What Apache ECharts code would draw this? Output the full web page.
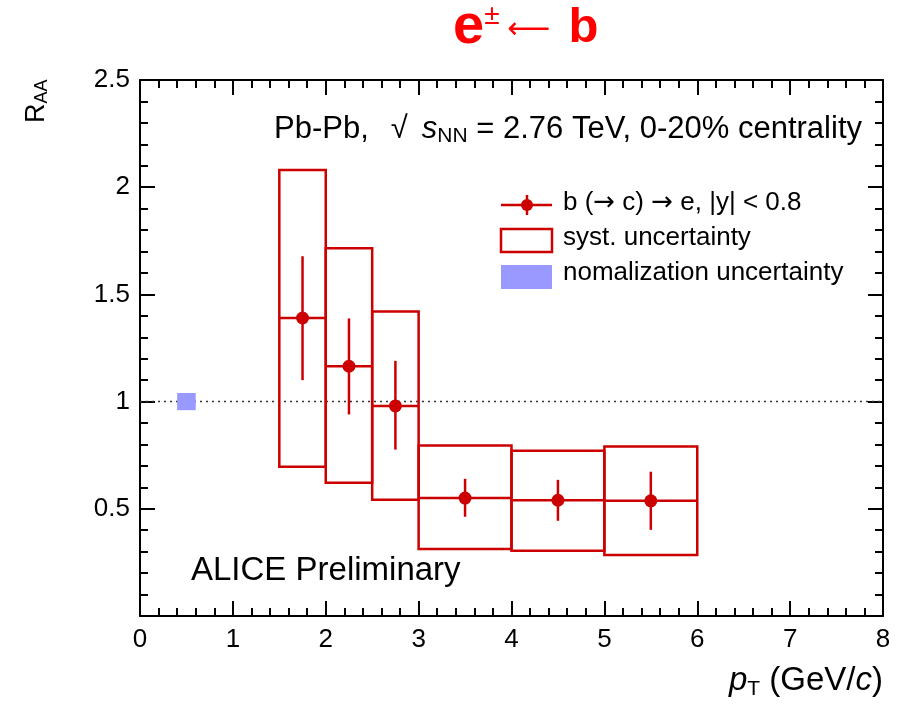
<!DOCTYPE html>
<html>
<head>
<meta charset="utf-8">
<script src="https://cdn.jsdelivr.net/npm/echarts@6/dist/echarts.min.js"></script>
<style>
  html, body { margin: 0; padding: 0; background: #fff; }
  #chart { width: 900px; height: 708px; }
</style>
</head>
<body>
<div id="chart"></div>
<script>
// bins in pT (GeV/c)
var binLow  = [1.5, 2.0, 2.5, 3.0, 4.0, 5.0];
var binHigh = [2.0, 2.5, 3.0, 4.0, 5.0, 6.0];
// R_AA central values and errors
var raa      = [1.39, 1.165, 0.98, 0.55, 0.54, 0.537];
var statLow  = [1.10, 0.94, 0.776, 0.463, 0.444, 0.402];
var statHigh = [1.678, 1.388, 1.19, 0.64, 0.635, 0.673];
var systLow  = [0.696, 0.621, 0.542, 0.313, 0.304, 0.285];
var systHigh = [2.08, 1.715, 1.42, 0.795, 0.771, 0.79];
// normalization box  [xmin, xmax, ymin, ymax]
var normBox = [0.4, 0.6, 0.96, 1.04];
var unityLine = [[0, 1], [8, 1]];

var red = '#cc0000';
var font = 'Liberation Sans';
var arrowFont = 'DejaVu Sans';

var systData = [], pointData = [];
for (var i = 0; i < raa.length; i++) {
    systData.push([binLow[i], binHigh[i], systLow[i], systHigh[i]]);
    pointData.push([binLow[i], binHigh[i], raa[i], statLow[i], statHigh[i]]);
}

var chart = echarts.init(document.getElementById('chart'));

function axisCommon() {
    return {
        axisLine: { show: true, onZero: false, lineStyle: { color: '#000', width: 2 } },
        axisTick: { show: true, inside: true, length: 15, lineStyle: { color: '#000', width: 2 } },
        minorTick: { show: true, splitNumber: 5, length: 8, lineStyle: { color: '#000', width: 2 } },
        splitLine: { show: false }
    };
}

var xBottom = Object.assign(axisCommon(), {
    type: 'value', position: 'bottom', min: 0, max: 8, interval: 1,
    axisLabel: { color: '#000', fontFamily: font, fontSize: 26, margin: 11 }
});
var xTop = Object.assign(axisCommon(), {
    type: 'value', position: 'top', min: 0, max: 8, interval: 1,
    axisLabel: { show: false }
});
var yLeft = Object.assign(axisCommon(), {
    type: 'value', position: 'left', min: 0, max: 2.5, interval: 0.5,
    axisLabel: {
        color: '#000', fontFamily: font, fontSize: 26, margin: 10,
        formatter: function (v) { return v === 0 ? '' : String(v); }
    }
});
var yRight = Object.assign(axisCommon(), {
    type: 'value', position: 'right', min: 0, max: 2.5, interval: 0.5,
    axisLabel: { show: false }
});

var option = {
    backgroundColor: '#fff',
    animation: false,
    grid: { left: 140, right: 17, top: 80, bottom: 92 },
    xAxis: [xBottom, xTop],
    yAxis: [yLeft, yRight],
    series: [
        {
            type: 'line',
            data: unityLine,
            symbol: 'none',
            lineStyle: { color: '#333', width: 1.5, type: [2, 4] },
            z: 1
        },
        {
            type: 'custom',
            data: [normBox],
            renderItem: function (params, api) {
                var p0 = api.coord([api.value(0), api.value(3)]);
                var p1 = api.coord([api.value(1), api.value(2)]);
                return {
                    type: 'rect',
                    shape: { x: p0[0], y: p0[1], width: p1[0] - p0[0], height: p1[1] - p0[1] },
                    style: { fill: '#9999ff', stroke: null }
                };
            },
            z: 2
        },
        {
            type: 'custom',
            data: systData,
            renderItem: function (params, api) {
                var p0 = api.coord([api.value(0), api.value(3)]);
                var p1 = api.coord([api.value(1), api.value(2)]);
                return {
                    type: 'rect',
                    shape: { x: p0[0], y: p0[1], width: p1[0] - p0[0], height: p1[1] - p0[1] },
                    style: { fill: 'none', stroke: red, lineWidth: 2.5 }
                };
            },
            z: 3
        },
        {
            type: 'custom',
            data: pointData,
            renderItem: function (params, api) {
                var xl = api.value(0), xh = api.value(1), y = api.value(2);
                var xc = (xl + xh) / 2;
                var a = api.coord([xl, y]), b = api.coord([xh, y]);
                var c = api.coord([xc, y]);
                var lo = api.coord([xc, api.value(3)]), hi = api.coord([xc, api.value(4)]);
                var st = { stroke: red, lineWidth: 2.5 };
                return {
                    type: 'group',
                    children: [
                        { type: 'line', shape: { x1: a[0], y1: a[1], x2: b[0], y2: b[1] }, style: st },
                        { type: 'line', shape: { x1: lo[0], y1: lo[1], x2: hi[0], y2: hi[1] }, style: st },
                        { type: 'circle', shape: { cx: c[0], cy: c[1], r: 6.5 }, style: { fill: red } }
                    ]
                };
            },
            z: 4
        }
    ],
    graphic: [
        // red title
        {
            type: 'text', left: 453, top: 0,
            style: {
                text: '{e|e}{sup|\u00b1}{ar|\u27f5}{b|b}',
                rich: {
                    e: { fill: '#ff0000', fontSize: 56, fontWeight: 'bold', fontFamily: font },
                    sup: { fill: '#ff0000', fontSize: 28, fontFamily: font, padding: [0, 8, 24, 0] },
                    ar: { fill: '#ff0000', fontSize: 30, fontFamily: arrowFont, padding: [4, 18, 0, 0] },
                    b: { fill: '#ff0000', fontSize: 49, fontWeight: 'bold', fontFamily: font }
                }
            }
        },
        // y axis title
        {
            type: 'text', x: 22, y: 123, rotation: Math.PI / 2,
            style: {
                text: '{r|R}{s|AA}',
                rich: {
                    r: { fontSize: 27, fontFamily: font, fill: '#000' },
                    s: { fontSize: 18, fontFamily: font, fill: '#000', padding: [11, 0, 0, 0] }
                }
            }
        },
        // x axis title
        {
            type: 'text', right: 17, top: 664,
            style: {
                text: '{i|p}{s|T}{n| (GeV/}{i|c}{n|)}',
                rich: {
                    i: { fontSize: 33, fontFamily: font, fontStyle: 'italic', fill: '#000' },
                    s: { fontSize: 21, fontFamily: font, fill: '#000', padding: [18, 0, 0, 0] },
                    n: { fontSize: 33, fontFamily: font, fill: '#000' }
                }
            }
        },
        // collision system label
        {
            type: 'text', right: 38, top: 114,
            style: {
                text: '{n|Pb-Pb,}{r|\u221a}{i|s}{s|NN}{n| = 2.76 TeV, 0-20% centrality}',
                rich: {
                    n: { fontSize: 31, fontFamily: font, fill: '#000' },
                    r: { fontSize: 31, fontFamily: font, fill: '#000', padding: [0, 14, 0, 22] },
                    i: { fontSize: 31, fontFamily: font, fontStyle: 'italic', fill: '#000' },
                    s: { fontSize: 21, fontFamily: font, fill: '#000', padding: [14, 0, 0, 0] }
                }
            }
        },
        {
            type: 'text', left: 191, top: 554,
            style: { text: 'ALICE Preliminary', fontSize: 33, fontFamily: font, fill: '#000' }
        },
        // legend
        { type: 'line', shape: { x1: 501, y1: 205, x2: 552, y2: 205 }, style: { stroke: red, lineWidth: 2.5 } },
        { type: 'line', shape: { x1: 527, y1: 195, x2: 527, y2: 215 }, style: { stroke: red, lineWidth: 2.5 } },
        { type: 'circle', shape: { cx: 527, cy: 205, r: 6 }, style: { fill: red } },
        {
            type: 'text', left: 563, top: 190,
            style: {
                text: '{n|b (}{a|\u2192}{n| c) }{a|\u2192}{n| e, |y| < 0.8}',
                rich: {
                    n: { fontSize: 26, fontFamily: font, fill: '#000' },
                    a: { fontSize: 26, fontFamily: arrowFont, fill: '#000' }
                }
            }
        },
        { type: 'rect', shape: { x: 501, y: 229, width: 51, height: 23 }, style: { fill: 'none', stroke: red, lineWidth: 2.5 } },
        {
            type: 'text', left: 563, top: 225,
            style: { text: 'syst. uncertainty', fontSize: 26, fontFamily: font, fill: '#000' }
        },
        { type: 'rect', shape: { x: 501, y: 265, width: 51, height: 24 }, style: { fill: '#9999ff' } },
        {
            type: 'text', left: 563, top: 260,
            style: { text: 'nomalization uncertainty', fontSize: 26, fontFamily: font, fill: '#000' }
        }
    ]
};

chart.setOption(option);
</script>
</body>
</html>
